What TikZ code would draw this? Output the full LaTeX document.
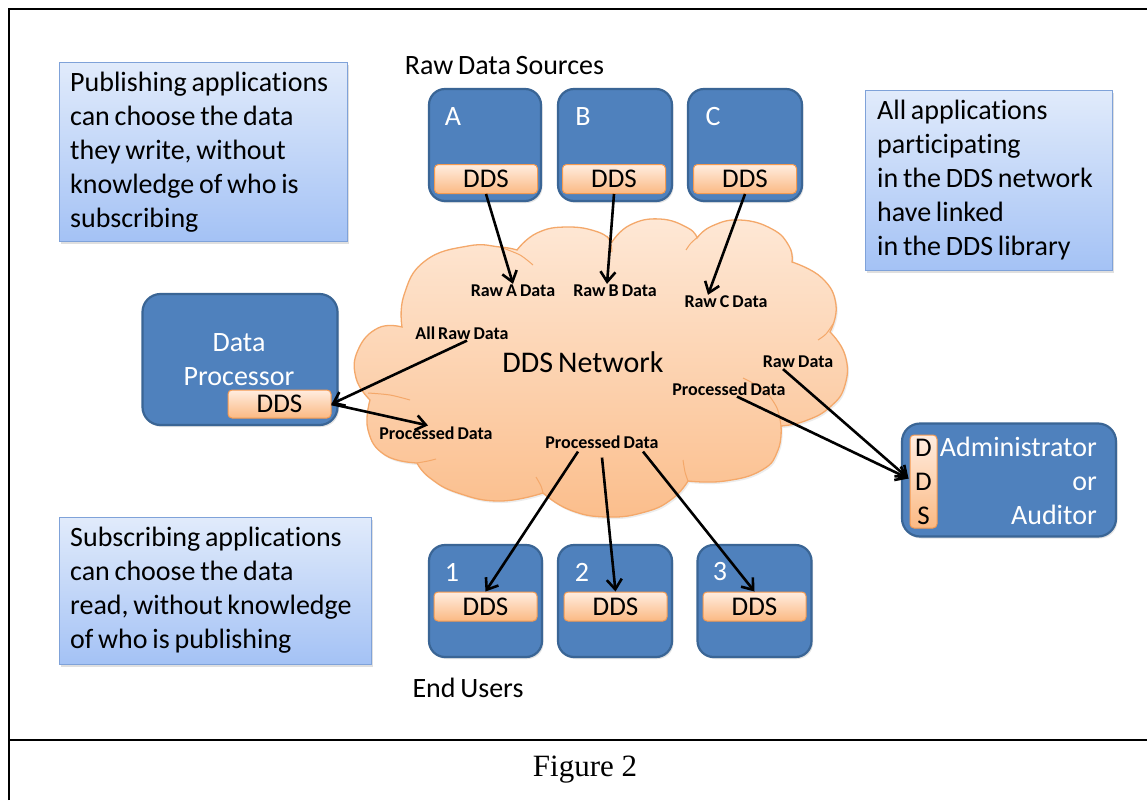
\documentclass[tikz,border=0pt]{standalone}
\usepackage{fontspec}
\setmainfont{Carlito}[WordSpace=0.75, Ligatures=NoCommon]
\newfontfamily\captionfont{Liberation Serif}
\usetikzlibrary{arrows.meta,shadows,calc}

\definecolor{appblue}{HTML}{4F81BD}
\definecolor{appedge}{HTML}{3A6595}
\definecolor{ddstop}{HTML}{FFEDE0}
\definecolor{ddsbot}{HTML}{FBB983}
\definecolor{ddsedge}{HTML}{F59A50}
\definecolor{cloudtop}{HTML}{FEE8D6}
\definecolor{cloudbot}{HTML}{FBBE8C}
\definecolor{cloudedge}{HTML}{F4A86A}
\definecolor{notetop}{HTML}{E1EBFB}
\definecolor{notebot}{HTML}{A4C2F5}
\definecolor{noteedge}{HTML}{7FA2D9}

\tikzset{
  app/.style={draw=appedge, line width=2.2pt, fill=appblue, rounded corners=16pt,
    inner sep=0pt,
    drop shadow={opacity=0.22, shadow xshift=1.5pt, shadow yshift=-2pt}},
  ddsbox/.style={draw=ddsedge, line width=1pt, top color=ddstop, bottom color=ddsbot,
    rounded corners=4pt, minimum width=103pt, minimum height=29pt, inner sep=0pt,
    font=\fontsize{27pt}{34pt}\selectfont},
  note/.style={draw=noteedge, line width=1pt, top color=notetop, bottom color=notebot,
    inner sep=0pt,
    drop shadow={opacity=0.25, shadow xshift=2pt, shadow yshift=-2.5pt}},
  notetext/.style={anchor=west, align=left, inner sep=0pt,
    font=\fontsize{28pt}{34pt}\selectfont},
  applabel/.style={text=white, inner sep=0pt, font=\fontsize{28pt}{34pt}\selectfont},
  heading/.style={inner sep=0pt, font=\fontsize{28pt}{34pt}\selectfont},
  flowlabel/.style={inner sep=0pt, font=\fontsize{18pt}{20pt}\selectfont\bfseries},
  cloudshape/.style={draw=cloudedge, line width=1.3pt, top color=cloudtop, bottom color=cloudbot,
    drop shadow={opacity=0.15, shadow xshift=1.5pt, shadow yshift=-2pt}},
  crease/.style={draw=cloudedge, line width=1pt},
  arr/.style={line width=2.6pt, -{Straight Barb[length=10pt,width=15pt]}},
  frame/.style={line width=2pt}
}

\begin{document}
\begin{tikzpicture}[x=1pt, y=-1pt]
\useasboundingbox[fill=white] (0,0) rectangle (1147,800);

% outer frame and caption row
\draw[frame] (9,800) -- (9,9) -- (1147,9);
\draw[frame] (9,740) -- (1147,740);
\node[inner sep=0pt, font=\captionfont\fontsize{31pt}{34pt}\selectfont] (caption) at (585,770) {Figure 2};

% explanatory notes
\node[note, minimum width=288pt, minimum height=179pt] (pubnote) at (203,151.5) {};
\node[notetext] (pubtext) at (70,152)
  {Publishing applications\\can choose the data\\they write, without\\knowledge of who is\\subscribing};
\node[note, minimum width=312pt, minimum height=147pt] (subnote) at (215,590.5) {};
\node[notetext] (subtext) at (70,590)
  {Subscribing applications\\can choose the data\\read, without knowledge\\of who is publishing};
\node[note, minimum width=247pt, minimum height=180pt] (allnote) at (988.5,180) {};
\node[notetext] (alltext) at (877,180)
  {All applications\\participating\\in the DDS network\\have linked\\in the DDS library};

% the DDS network cloud
\path[cloudshape] (402,327)
  -- plot[smooth, tension=0.8] coordinates {(402,327) (404,295) (425,261) (468,246) (500,247) (517,250)}
  -- plot[smooth, tension=0.8] coordinates {(517,250) (537,233) (567,227) (598,232) (612,242)}
  -- plot[smooth, tension=0.8] coordinates {(612,242) (630,225) (660,219) (688,228) (697,238)}
  -- plot[smooth, tension=0.8] coordinates {(697,238) (712,226) (740,220) (772,229) (789,246) (792,262)}
  -- plot[smooth, tension=0.8] coordinates {(792,262) (822,278) (836,305) (830,332)}
  -- plot[smooth, tension=0.8] coordinates {(830,332) (845,355) (845,385) (830,407) (805,421) (781,426)}
  -- plot[smooth, tension=0.8] coordinates {(781,426) (778,450) (762,470) (725,481) (688,481)}
  -- plot[smooth, tension=0.8] coordinates {(688,481) (672,499) (645,512) (607,517) (570,510) (543,493)}
  -- plot[smooth, tension=0.8] coordinates {(543,493) (500,501) (458,493) (430,478) (417,463)}
  -- plot[smooth, tension=0.8] coordinates {(417,463) (385,455) (368,430) (370,400)}
  -- plot[smooth, tension=0.8] coordinates {(370,400) (356,378) (358,350) (378,328) (402,327)}
  -- cycle;
% folds between the cloud's lobes
\draw[crease] plot[smooth] coordinates {(500,247) (520,255) (533,265)};
\draw[crease] plot[smooth] coordinates {(607,236) (611,244) (612,252)};
\draw[crease] plot[smooth] coordinates {(699,236) (691,243) (686,250)};
\draw[crease] plot[smooth] coordinates {(833,324) (826,334) (818,340)};
\draw[crease] plot[smooth] coordinates {(743,378) (764,390) (777,408) (781,426)};
\draw[crease] plot[smooth] coordinates {(368,393) (390,395) (410,400)};
\draw[crease] plot[smooth] coordinates {(417,463) (428,461) (436,459)};
\draw[crease] plot[smooth] coordinates {(536,477) (541,486) (543,493)};
\draw[crease] plot[smooth] coordinates {(683,460) (685,472) (688,481)};

\node[inner sep=0pt, font=\fontsize{30pt}{34pt}\selectfont] (network) at (583,362) {DDS Network};

% raw data sources
\node[heading] (srchead) at (504.5,66) {Raw Data Sources};
\node[app, minimum width=112pt, minimum height=112pt] (srcA) at (485,145) {};
\node[app, minimum width=114pt, minimum height=112pt] (srcB) at (615,145) {};
\node[app, minimum width=114pt, minimum height=112pt] (srcC) at (745,145) {};
\node[applabel] (labA) at (453,117) {A};
\node[applabel] (labB) at (583,117) {B};
\node[applabel] (labC) at (713,117) {C};
\node[ddsbox] (ddsA) at (486,179) {DDS};
\node[ddsbox] (ddsB) at (614,179) {DDS};
\node[ddsbox] (ddsC) at (745,179) {DDS};

% data processor
\node[app, rounded corners=18pt, minimum width=195pt, minimum height=131pt] (proc) at (240,359.5) {};
\node[applabel, align=center] (proctext) at (239,360) {Data\\Processor};
\node[ddsbox, minimum height=28pt] (ddsP) at (279.5,404) {DDS};

% administrator
\node[app, rounded corners=18pt, minimum width=214pt, minimum height=113pt] (admin) at (1009,480) {};
\node[applabel, align=right, anchor=east] (admintext) at (1097,481) {Administrator\\or\\Auditor};
\node[ddsbox, minimum width=27pt, minimum height=93pt, align=center] (ddsAd) at (923.5,481.5) {D\\D\\S};

% end users
\node[app, minimum width=113pt, minimum height=112pt] (user1) at (485.5,601) {};
\node[app, minimum width=114pt, minimum height=112pt] (user2) at (615,601) {};
\node[app, minimum width=114pt, minimum height=112pt] (user3) at (754.5,601) {};
\node[applabel] (lab1) at (452,572) {1};
\node[applabel] (lab2) at (582,572) {2};
\node[applabel] (lab3) at (720,572) {3};
\node[ddsbox] (dds1) at (485.5,606.5) {DDS};
\node[ddsbox] (dds2) at (615.5,606.5) {DDS};
\node[ddsbox] (dds3) at (754.5,606.5) {DDS};
\node[heading] (userhead) at (468,688) {End Users};

% topic labels inside the cloud
\node[flowlabel] (rawA) at (513,291) {Raw A Data};
\node[flowlabel] (rawB) at (615,291) {Raw B Data};
\node[flowlabel] (rawC) at (726,302) {Raw C Data};
\node[flowlabel] (allraw) at (462,333) {All Raw Data};
\node[flowlabel] (rawD) at (798,362) {Raw Data};
\node[flowlabel] (procR) at (729,389) {Processed Data};
\node[flowlabel] (procL) at (436,433) {Processed Data};
\node[flowlabel] (procB) at (602,442) {Processed Data};

% data flows
\draw[arr] (ddsA.south) -- ($(rawA.north)+(0,-1)$);
\draw[arr] (ddsB.south) -- ($(rawB.north)+(-8,-1)$);
\draw[arr] (ddsC.south) -- ($(rawC.north)+(-18,-1)$);
\draw[arr] ($(allraw.south)+(5,1)$) -- (ddsP.east);
\draw[arr] (ddsP.east) -- ($(procL.north)+(-8,-1)$);
\draw[arr] ($(procB.south)+(-24,3)$) -- (dds1.north);
\draw[arr] ($(procB.south)+(0,9)$) -- (dds2.north);
\draw[arr] ($(procB.south)+(41,3)$) -- (dds3.north);
\draw[arr] ($(procR.south)+(8,1)$) -- ($(ddsAd.west)+(-1,-3)$);
\draw[arr] ($(rawD.south)+(-15,1)$) -- ($(ddsAd.west)+(-1,-3)$);
\end{tikzpicture}
\end{document}
